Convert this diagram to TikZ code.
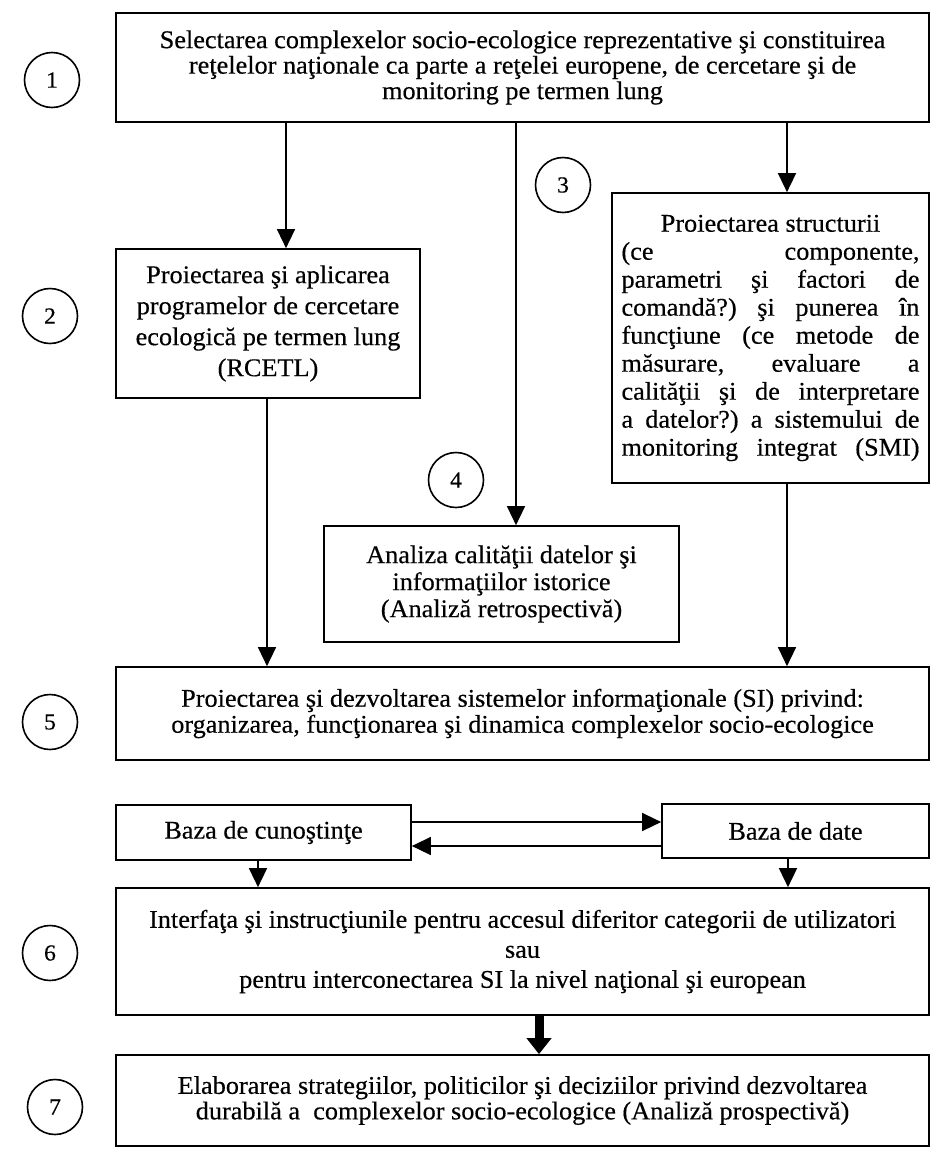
\documentclass[tikz,border=0pt]{standalone}
\usepackage{fontspec}
\setmainfont{Liberation Serif}[FakeStretch=1.03,FakeBold=0.4]
\usetikzlibrary{arrows.meta}
\frenchspacing
\begin{document}
\begin{tikzpicture}[x=1pt,y=-1pt,
  box/.style={draw,line width=1.7pt,inner sep=0pt,align=center,font=\fontsize{25.5}{25.5}\selectfont},
  num/.style={draw,circle,line width=1.6pt,minimum size=55pt,inner sep=0pt,font=\fontsize{23}{23}\selectfont},
  flow/.style={line width=1.5pt,-{Triangle[length=19pt,width=18pt]}},
  bigflow/.style={line width=9pt,-{Triangle[length=16pt,width=24pt]}},
  ]
\useasboundingbox (0,0) rectangle (933,1149);

% process boxes
\node[box,minimum width=813pt,minimum height=109pt] (b1) at (522.5,67.5)
  {Selectarea complexelor socio-ecologice reprezentative şi constituirea\\
   reţelelor naţionale ca parte a reţelei europene, de cercetare şi de\\
   monitoring pe termen lung};
\node[box,minimum width=304pt,minimum height=149pt,font=\fontsize{25.5}{31}\selectfont] (b2) at (268,323.5)
  {Proiectarea şi aplicarea\\ programelor de cercetare\\ ecologică pe termen lung\\ (RCETL)};
\node[box,minimum width=317pt,minimum height=290pt,font=\fontsize{25.5}{28}\selectfont] (b3) at (770.5,338)
  {Proiectarea structurii\\
   \makebox[298pt][s]{(ce componente,}\\
   \makebox[298pt][s]{parametri şi factori de}\\
   \makebox[298pt][s]{comandă?) şi punerea în}\\
   \makebox[298pt][s]{funcţiune (ce metode de}\\
   \makebox[298pt][s]{măsurare, evaluare a}\\
   \makebox[298pt][s]{calităţii şi de interpretare}\\
   \makebox[298pt][s]{a datelor?) a sistemului de}\\
   \makebox[298pt][s]{monitoring integrat (SMI)}};
\node[box,minimum width=355pt,minimum height=116pt,font=\fontsize{25.5}{27}\selectfont] (b4) at (501.5,584)
  {Analiza calităţii datelor şi\\ informaţiilor istorice\\ (Analiză retrospectivă)};
\node[box,minimum width=813pt,minimum height=93pt,font=\fontsize{25.5}{26}\selectfont] (b5) at (522.5,713.5)
  {Proiectarea şi dezvoltarea sistemelor informaţionale (SI) privind:\\
   organizarea, funcţionarea şi dinamica complexelor socio-ecologice};
\node[box,minimum width=295pt,minimum height=55pt] (kb) at (263.5,832.5) {Baza de cunoştinţe};
\node[box,minimum width=267pt,minimum height=54pt] (db) at (795.5,831) {Baza de date};
\node[box,minimum width=813pt,minimum height=127pt,font=\fontsize{25.5}{30}\selectfont] (b6) at (522.5,951.5)
  {Interfaţa şi instrucţiunile pentru accesul diferitor categorii de utilizatori\\
   sau\\
   pentru interconectarea SI la nivel naţional şi european};
\node[box,minimum width=813pt,minimum height=91pt] (b7) at (522.5,1100.5)
  {Elaborarea strategiilor, politicilor şi deciziilor privind dezvoltarea\\
   durabilă a\ \ complexelor socio-ecologice (Analiză prospectivă)};

% step numbers
\node[num] (n1) at (52,80) {1};
\node[num] (n2) at (50,316) {2};
\node[num] (n3) at (563,185) {3};
\node[num] (n4) at (456,480) {4};
\node[num] (n5) at (50,722) {5};
\node[num] (n6) at (50,953) {6};
\node[num] (n7) at (55,1107) {7};

% columns and rows of the connectors
\coordinate (cA) at (286,0);
\coordinate (cB) at (267,0);
\coordinate (cM) at (516,0);
\coordinate (cR) at (787,0);
\coordinate (cK) at (258,0);
\coordinate (cD) at (788,0);
\coordinate (cT) at (539,0);
\coordinate (rU) at (0,822);
\coordinate (rL) at (0,846);

\draw[flow] (b1.south -| cA) -- (b2.north -| cA);
\draw[flow] (b1.south -| cM) -- (b4.north -| cM);
\draw[flow] (b1.south -| cR) -- (b3.north -| cR);
\draw[flow] (b2.south -| cB) -- (b5.north -| cB);
\draw[flow] (b3.south -| cR) -- (b5.north -| cR);
\draw[flow] (kb.east |- rU) -- (db.west |- rU);
\draw[flow] (db.west |- rL) -- (kb.east |- rL);
\draw[flow] (kb.south -| cK) -- (b6.north -| cK);
\draw[flow] (db.south -| cD) -- (b6.north -| cD);
\draw[bigflow] (b6.south -| cT) -- (b7.north -| cT);
\end{tikzpicture}
\end{document}
